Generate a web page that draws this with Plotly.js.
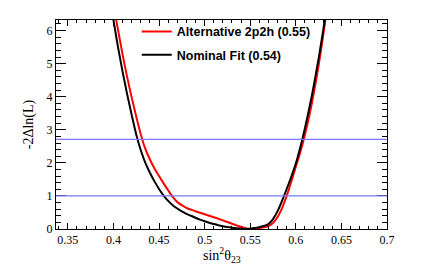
<!DOCTYPE html>
<html>
<head>
<meta charset="utf-8">
<script src="https://cdn.plot.ly/plotly-3.0.1.min.js"></script>
<style>html,body{margin:0;padding:0;background:#fff;}#plot{width:430px;height:273px;}</style>
</head>
<body>
<div id="plot"></div>
<script>
// Nominal fit curve (-2ΔlnL vs sin^2 theta23)
const nominalX = [0.398, 0.400, 0.405, 0.410, 0.415, 0.420, 0.425, 0.430, 0.435, 0.440, 0.445, 0.450, 0.455, 0.460, 0.465, 0.470, 0.475, 0.480, 0.485, 0.490, 0.495, 0.500, 0.505, 0.510, 0.515, 0.520, 0.525, 0.530, 0.535, 0.540, 0.545, 0.550, 0.555, 0.560, 0.565, 0.570, 0.575, 0.580, 0.585, 0.590, 0.595, 0.600, 0.605, 0.610, 0.615, 0.620, 0.625, 0.630, 0.635];
const nominalY = [6.65, 6.32, 5.5, 4.76, 4.08, 3.45, 2.86, 2.38, 2.0, 1.70, 1.44, 1.21, 1.01, 0.85, 0.72, 0.62, 0.53, 0.46, 0.40, 0.34, 0.285, 0.235, 0.19, 0.15, 0.115, 0.085, 0.06, 0.04, 0.022, 0.008, 0.0, 0.01, 0.03, 0.06, 0.09, 0.15, 0.30, 0.54, 0.86, 1.21, 1.58, 1.98, 2.48, 3.05, 3.68, 4.38, 5.15, 6.0, 6.9];
// Alternative 2p2h curve
const altX = [0.400, 0.405, 0.410, 0.415, 0.420, 0.425, 0.430, 0.435, 0.440, 0.445, 0.450, 0.455, 0.460, 0.465, 0.470, 0.475, 0.480, 0.485, 0.490, 0.495, 0.500, 0.505, 0.510, 0.515, 0.520, 0.525, 0.530, 0.535, 0.540, 0.545, 0.550, 0.555, 0.560, 0.565, 0.570, 0.575, 0.580, 0.585, 0.590, 0.595, 0.600, 0.605, 0.610, 0.615, 0.620, 0.625, 0.630, 0.635];
const altY = [6.8, 6.02, 5.28, 4.60, 3.98, 3.40, 2.86, 2.42, 2.10, 1.83, 1.60, 1.38, 1.17, 0.97, 0.82, 0.72, 0.64, 0.585, 0.535, 0.49, 0.445, 0.40, 0.355, 0.31, 0.26, 0.21, 0.16, 0.11, 0.06, 0.02, 0.0, 0.01, 0.03, 0.05, 0.09, 0.18, 0.36, 0.64, 1.0, 1.43, 1.88, 2.33, 2.85, 3.45, 4.15, 4.95, 5.85, 6.85];
const seriesNames = ["Alternative 2p2h (0.55)", "Nominal Fit (0.54)"];
const thresholds = [1, 2.71];
const xTitle = "sin<sup>2</sup>θ<sub>23</sub>";
const yTitle = "-2Δln(L)";
const xTickVals = [0.35, 0.4, 0.45, 0.5, 0.55, 0.6, 0.65, 0.7];
const xTickText = ["0.35", "0.4", "0.45", "0.5", "0.55", "0.6", "0.65", "0.7"];
const yTickVals = [0, 1, 2, 3, 4, 5, 6];
const yTickText = ["0", "1", "2", "3", "4", "5", "6"];

const serif = "Liberation Serif, Times New Roman, serif";
const traces = [
  {x: altX, y: altY, name: seriesNames[0], mode: "lines", line: {color: "#ff0000", width: 2, shape: "spline", smoothing: 1}, legendgroup: "a"},
  {x: nominalX, y: nominalY, name: seriesNames[1], mode: "lines", line: {color: "#000000", width: 2, shape: "spline", smoothing: 1}, legendgroup: "b"}
];
const shapes = thresholds.map(v => ({type: "line", xref: "paper", x0: 0, x1: 1, yref: "y", y0: v, y1: v, line: {color: "#7878ff", width: 1.3}, layer: "above"}));
const axisCommon = {showgrid: false, zeroline: false, showline: true, linecolor: "#000", linewidth: 1, mirror: "ticks", ticks: "inside", tickcolor: "#000", tickfont: {family: serif, size: 12, color: "#000"}};
const layout = {
  width: 430, height: 273,
  margin: {l: 56, r: 43, t: 20, b: 44},
  paper_bgcolor: "#fff", plot_bgcolor: "#fff",
  showlegend: true,
  legend: {x: 0.244, y: 1.015, xanchor: "left", yanchor: "top", bgcolor: "rgba(0,0,0,0)", font: {family: "Liberation Sans, Arial, sans-serif", size: 12.5, color: "#000", weight: "bold"}, tracegroupgap: 4, traceorder: "grouped"},
  xaxis: Object.assign({}, axisCommon, {range: [0.337, 0.7], tickvals: xTickVals, ticktext: xTickText, ticklen: 6,
    minor: {dtick: 0.01, tick0: 0.35, ticks: "inside", ticklen: 3, tickcolor: "#000", showgrid: false}}),
  yaxis: Object.assign({}, axisCommon, {range: [0, 6.32], tickvals: yTickVals, ticktext: yTickText, ticklen: 10,
    minor: {dtick: 0.2, tick0: 0, ticks: "inside", ticklen: 5, tickcolor: "#000", showgrid: false},
    title: {text: yTitle, font: {family: serif, size: 14, color: "#000"}, standoff: 9}}),
  annotations: [{text: xTitle, xref: "paper", yref: "paper", x: 0.5, y: -0.125, xanchor: "center", yanchor: "middle", showarrow: false, font: {family: serif, size: 14, color: "#000"}}],
  shapes: shapes
};
Plotly.newPlot("plot", traces, layout, {displayModeBar: false, staticPlot: true});
</script>
</body>
</html>
